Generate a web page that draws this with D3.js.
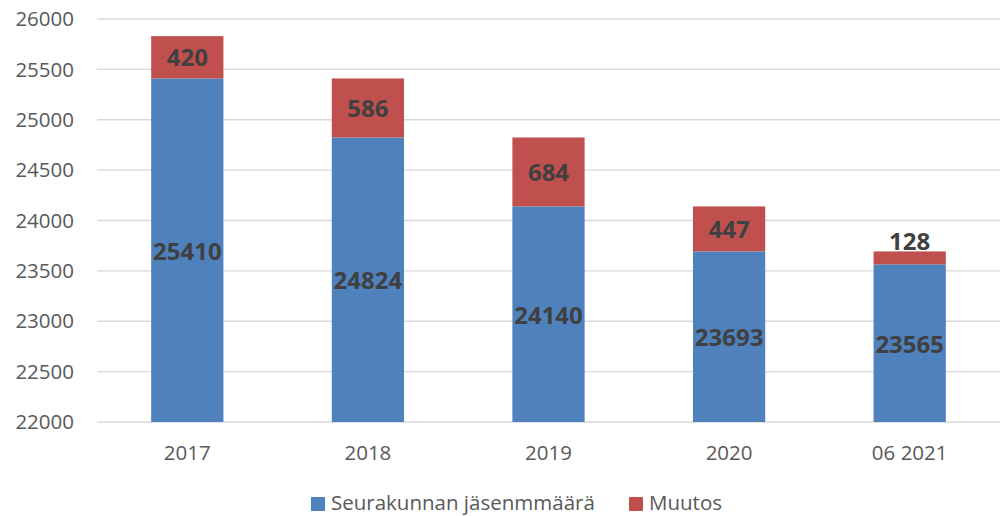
<!DOCTYPE html>
<html>
<head>
<meta charset="utf-8">
<script src="https://cdn.jsdelivr.net/npm/d3@7"></script>
<style>
  body { margin: 0; background: #fff; }
  svg { font-family: "Open Sans", "Noto Sans", sans-serif; }
</style>
</head>
<body>
<div id="chart"></div>
<script>
const categories = ["2017", "2018", "2019", "2020", "06 2021"];
const members = [25410, 24824, 24140, 23693, 23565];
const changes = [420, 586, 684, 447, 128];
const yTicks = [22000, 22500, 23000, 23500, 24000, 24500, 25000, 25500, 26000];
const seriesNames = ["Seurakunnan jäsenmmäärä", "Muutos"];
const colors = ["#4F81BD", "#C0504D"];

function createChart() {
    const width = 1000, height = 516;
    const svg = d3.select("#chart").append("svg")
        .attr("width", width)
        .attr("height", height);

    const x = d3.scaleBand()
        .domain(categories)
        .range([97, 1000])
        .paddingInner(0.6)
        .paddingOuter(0.3);

    const y = d3.scaleLinear()
        .domain([22000, 26000])
        .range([422, 19]);

    // gridlines
    svg.append("g").selectAll("line")
        .data(yTicks)
        .enter().append("line")
        .attr("x1", 97).attr("x2", 1000)
        .attr("y1", d => y(d)).attr("y2", d => y(d))
        .attr("stroke", "#d9d9d9")
        .attr("stroke-width", 1.3);

    // y labels
    svg.append("g").selectAll("text")
        .data(yTicks)
        .enter().append("text")
        .attr("x", 74)
        .attr("y", d => y(d))
        .attr("dy", "0.35em")
        .attr("text-anchor", "end")
        .attr("font-size", 20.5)
        .attr("fill", "#595959")
        .text(d => d);

    // x labels
    svg.append("g").selectAll("text")
        .data(categories)
        .enter().append("text")
        .attr("x", d => x(d) + x.bandwidth() / 2)
        .attr("y", 453)
        .attr("dy", "0.35em")
        .attr("text-anchor", "middle")
        .attr("font-size", 20.5)
        .attr("fill", "#595959")
        .text(d => d);

    const data = categories.map((c, i) => ({ cat: c, base: members[i], change: changes[i] }));

    // blue bars
    svg.append("g").selectAll("rect")
        .data(data)
        .enter().append("rect")
        .attr("x", d => x(d.cat))
        .attr("width", x.bandwidth())
        .attr("y", d => y(d.base))
        .attr("height", d => y(22000) - y(d.base))
        .attr("fill", colors[0]);

    // red bars
    svg.append("g").selectAll("rect")
        .data(data)
        .enter().append("rect")
        .attr("x", d => x(d.cat))
        .attr("width", x.bandwidth())
        .attr("y", d => y(d.base + d.change))
        .attr("height", d => y(d.base) - y(d.base + d.change))
        .attr("fill", colors[1]);

    // value labels
    const lbl = svg.append("g")
        .attr("font-size", 24)
        .attr("font-weight", "bold")
        .attr("fill", "#404040")
        .attr("text-anchor", "middle");

    lbl.selectAll(".base")
        .data(data)
        .enter().append("text")
        .attr("x", d => x(d.cat) + x.bandwidth() / 2)
        .attr("y", d => (y(22000) + y(d.base)) / 2)
        .attr("dy", "0.4em")
        .text(d => d.base);

    lbl.selectAll(".chg")
        .data(data)
        .enter().append("text")
        .attr("x", d => x(d.cat) + x.bandwidth() / 2)
        .attr("y", d => {
            const h = y(d.base) - y(d.base + d.change);
            // too small a segment: put it above the bar
            return h < 24 ? y(d.base + d.change) - 11 : (y(d.base) + y(d.base + d.change)) / 2;
        })
        .attr("dy", "0.38em")
        .text(d => d.change);

    // legend
    const legend = svg.append("g");
    const items = [{ name: seriesNames[0], color: colors[0], x: 311 }, { name: seriesNames[1], color: colors[1], x: 629 }];
    items.forEach(it => {
        legend.append("rect")
            .attr("x", it.x).attr("y", 497)
            .attr("width", 14).attr("height", 14)
            .attr("fill", it.color);
        legend.append("text")
            .attr("x", it.x + 20).attr("y", 510)
            .attr("font-size", 20.5)
            .attr("fill", "#595959")
            .text(it.name);
    });
}

document.addEventListener("DOMContentLoaded", createChart);
</script>
</body>
</html>
